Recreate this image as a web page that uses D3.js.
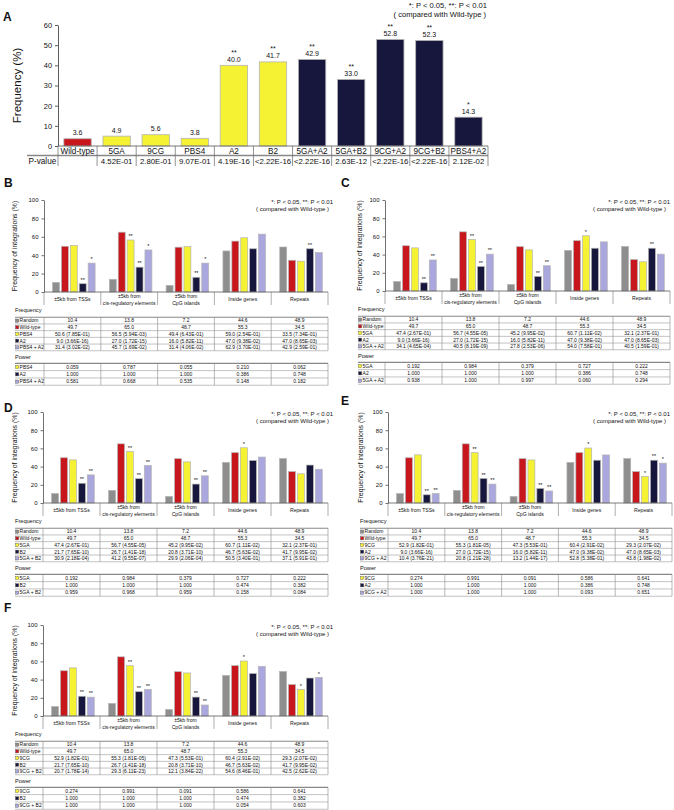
<!DOCTYPE html>
<html><head><meta charset="utf-8">
<script src="https://cdn.jsdelivr.net/npm/d3@7"></script>
<style>
body{margin:0;background:#fff}
svg text{font-family:"Liberation Sans",Arial,sans-serif;fill:#111}
</style>
</head><body>
<script>
// ---------------- DATA ----------------
// Panel A
const aMutants   = ["Wild-type","5GA","9CG","PBS4","A2","B2","5GA+A2","5GA+B2","9CG+A2","9CG+B2","PBS4+A2"];
const aFrequency = [3.6, 4.9, 5.6, 3.8, 40.0, 41.7, 42.9, 33.0, 52.8, 52.3, 14.3];
const aPvalue    = ["", "4.52E-01","2.80E-01","9.07E-01","4.19E-16","<2.22E-16","<2.22E-16","2.63E-12","<2.22E-16","<2.22E-16","2.12E-02"];
const aKind      = ["wild","single","single","single","single","single","double","double","double","double","double"];
const aTicks     = [0,10,20,30,40,50,60];

// Panels B-F
const regionLabels = [["±5kb from TSSs"],["±5kb from","cis-regulatory elements"],["±5kb from","CpG islands"],["Inside genes"],["Repeats"]];
const regionTicks  = [0,20,40,60,80,100];

const randomFreq = [10.4, 13.8, 7.2, 44.6, 48.9];
const wildFreq   = [49.7, 65.0, 48.7, 55.3, 34.5];

const pbs4Freq  = [50.6, 56.5, 49.4, 59.0, 33.5];
const pbs4P     = ["7.85E-01","5.94E-03","6.43E-01","2.54E-01","7.34E-01"];
const pbs4Power = [0.059, 0.787, 0.055, 0.210, 0.062];

const ga5Freq  = [47.4, 56.7, 45.2, 60.7, 32.1];
const ga5P     = ["2.67E-01","4.55E-05","9.95E-02","1.11E-02","2.37E-01"];
const ga5Power = [0.192, 0.984, 0.379, 0.727, 0.222];

const cg9Freq  = [52.9, 55.3, 47.3, 60.4, 29.3];
const cg9P     = ["1.82E-01","1.81E-05","5.53E-01","2.91E-02","2.07E-02"];
const cg9Power = [0.274, 0.991, 0.091, 0.586, 0.641];

const a2Freq  = [9.0, 27.0, 16.0, 47.0, 47.0];
const a2P     = ["3.66E-16","1.72E-15","5.82E-11","9.38E-02","8.65E-03"];
const a2Power = [1.000, 1.000, 1.000, 0.386, 0.748];

const b2Freq  = [21.7, 26.7, 20.8, 46.7, 41.7];
const b2P     = ["7.65E-10","1.41E-18","3.71E-10","5.63E-02","9.95E-02"];
const b2Power = [1.000, 1.000, 1.000, 0.474, 0.382];

const pbs4A2Freq  = [31.4, 45.7, 31.4, 62.9, 42.9];
const pbs4A2P     = ["3.02E-02","1.69E-02","4.06E-02","3.70E-01","2.59E-01"];
const pbs4A2Power = [0.581, 0.668, 0.535, 0.148, 0.182];

const ga5A2Freq  = [34.1, 40.5, 27.8, 54.0, 40.5];
const ga5A2P     = ["4.65E-04","8.19E-09","2.53E-06","7.58E-01","1.59E-01"];
const ga5A2Power = [0.938, 1.000, 0.997, 0.060, 0.294];

const ga5B2Freq  = [30.9, 41.2, 29.9, 50.5, 37.1];
const ga5B2P     = ["2.18E-04","9.55E-07","2.06E-04","3.40E-01","5.91E-01"];
const ga5B2Power = [0.959, 0.968, 0.959, 0.158, 0.084];

const cg9A2Freq  = [10.4, 20.8, 13.2, 52.8, 43.8];
const cg9A2P     = ["3.76E-21","1.21E-28","1.44E-17","5.38E-01","1.98E-02"];
const cg9A2Power = [1.000, 1.000, 1.000, 0.093, 0.651];

const cg9B2Freq  = [20.7, 29.3, 12.1, 54.6, 42.5];
const cg9B2P     = ["1.78E-14","6.11E-23","3.84E-22","8.46E-01","2.62E-02"];
const cg9B2Power = [1.000, 1.000, 1.000, 0.054, 0.603];

// ---------------- STYLE ----------------
const COL = {random:"#8e8e8e", wild:"#c8161d", single:"#f4f232", single2:"#17173d", double:"#17173d", combo:"#a9a7dd"};
const OUT = "#b4b4b4";
const FONT = '"Liberation Sans",Arial,sans-serif';

function stars(p){
  if(!p) return "";
  const v = p.startsWith("<") ? 0 : +p;
  return v < 0.01 ? "**" : v < 0.05 ? "*" : "";
}

const svg = d3.select("body").append("svg").attr("width",674).attr("height",810);

// ---------------- PANEL A ----------------
(function(){
  const g = svg.append("g");
  const left = 58, right = 488, base = 146, top = 25;
  const x = d3.scaleBand().domain(aMutants).range([left,right]).paddingInner(0.3).paddingOuter(0.15);
  const y = d3.scaleLinear().domain([0,60]).range([base,top]);

  g.append("text").attr("x",3).attr("y",21).attr("font-size",12).attr("font-weight","bold").text("A");

  g.append("text").attr("x",487).attr("y",8).attr("text-anchor","end").attr("font-size",7.6).text("*: P < 0.05, **: P < 0.01");
  g.append("text").attr("x",486).attr("y",17).attr("text-anchor","end").attr("font-size",7.6).text("( compared with Wild-type )");

  const ax = g.append("g").attr("transform",`translate(${left},0)`)
    .call(d3.axisLeft(y).tickValues(aTicks).tickSize(3).tickSizeOuter(0).tickPadding(3));
  ax.attr("font-family",FONT).attr("font-size",7.4);
  ax.selectAll("line,path").attr("stroke","#333").attr("stroke-width",0.8);
  ax.selectAll("text").attr("fill","#111");

  g.append("text").attr("transform",`translate(21,${(base+top)/2}) rotate(-90)`)
    .attr("text-anchor","middle").attr("font-size",11.5).text("Frequency (%)");

  g.selectAll("rect.bar").data(aMutants).join("rect").attr("class","bar")
    .attr("x",d=>x(d)).attr("width",x.bandwidth())
    .attr("y",(d,i)=>y(aFrequency[i])).attr("height",(d,i)=>base-y(aFrequency[i]))
    .attr("fill",(d,i)=>COL[aKind[i]]).attr("stroke",OUT).attr("stroke-width",0.8);

  g.selectAll("text.val").data(aMutants).join("text").attr("class","val")
    .attr("x",d=>x(d)+x.bandwidth()/2).attr("y",(d,i)=>y(aFrequency[i])-3.5)
    .attr("text-anchor","middle").attr("font-size",7).text((d,i)=>aFrequency[i].toFixed(1));
  g.selectAll("text.star").data(aMutants).join("text").attr("class","star")
    .attr("x",d=>x(d)+x.bandwidth()/2).attr("y",(d,i)=>y(aFrequency[i])-10.5)
    .attr("text-anchor","middle").attr("font-size",7).text((d,i)=>stars(aPvalue[i]));

  // table under bars
  const step = x.step();
  g.append("line").attr("x1",left).attr("x2",right).attr("y1",base).attr("y2",base).attr("stroke","#555").attr("stroke-width",0.8);
  g.append("line").attr("x1",27).attr("x2",right).attr("y1",155.5).attr("y2",155.5).attr("stroke","#888").attr("stroke-width",1.4);
  d3.range(aMutants.length+1).forEach(k=>{
    g.append("line").attr("x1",left+k*step).attr("x2",left+k*step).attr("y1",base).attr("y2",166)
      .attr("stroke","#666").attr("stroke-width",0.7);
  });
  g.selectAll("text.cat").data(aMutants).join("text").attr("class","cat")
    .attr("x",(d,i)=>left+(i+0.5)*step).attr("y",153.5).attr("text-anchor","middle")
    .attr("font-size",8.2).text(d=>d);
  g.append("text").attr("x",28.5).attr("y",164).attr("font-size",8.2).text("P-value");
  g.selectAll("text.pv").data(aPvalue).join("text").attr("class","pv")
    .attr("x",(d,i)=>left+(i+0.5)*step).attr("y",164).attr("text-anchor","middle")
    .attr("font-size",7.8).text(d=>d);
})();

// ---------------- PANELS B-F ----------------
function drawRegionPanel(cfg){
  const g = svg.append("g");
  const y = d3.scaleLinear().domain([0,100]).range([cfg.base,cfg.top]);
  const x0 = d3.scaleBand().domain(d3.range(regionLabels.length)).range([cfg.axisX,cfg.right]).padding(0);
  const keys = cfg.series.map(s=>s.name);
  const x1 = d3.scaleBand().domain(keys).range([0,x0.bandwidth()]).paddingInner(0.22).paddingOuter(0.8).align(0.6);

  g.append("text").attr("x",cfg.lx).attr("y",cfg.ly).attr("font-size",12).attr("font-weight","bold").text(cfg.label);

  g.append("text").attr("x",cfg.noteX).attr("y",cfg.top+3.5).attr("text-anchor","end").attr("font-size",6).text("*: P < 0.05, **: P < 0.01");
  g.append("text").attr("x",cfg.noteX-4).attr("y",cfg.top+11).attr("text-anchor","end").attr("font-size",6).text("( compared with Wild-type )");

  const ax = g.append("g").attr("transform",`translate(${cfg.axisX},0)`)
    .call(d3.axisLeft(y).tickValues(regionTicks).tickSize(2.5).tickSizeOuter(0).tickPadding(3));
  ax.attr("font-family",FONT).attr("font-size",6);
  ax.selectAll("line,path").attr("stroke","#333").attr("stroke-width",0.7);
  ax.selectAll("text").attr("fill","#111");

  g.append("text").attr("transform",`translate(${cfg.titleX},${(cfg.base+cfg.top)/2}) rotate(-90)`)
    .attr("text-anchor","middle").attr("font-size",6.9).text("Frequency of integrations (%)");

  // bars
  cfg.series.forEach(s=>{
    g.selectAll(null).data(s.freq).join("rect")
      .attr("x",(d,i)=>x0(i)+x1(s.name)).attr("width",x1.bandwidth())
      .attr("y",d=>y(d)).attr("height",d=>cfg.base-y(d))
      .attr("fill",COL[s.kind]).attr("stroke",OUT).attr("stroke-width",0.7);
    if(s.p){
      g.selectAll(null).data(s.freq).join("text")
        .attr("x",(d,i)=>x0(i)+x1(s.name)+x1.bandwidth()/2).attr("y",d=>y(d)-1.8)
        .attr("text-anchor","middle").attr("font-size",5.5).text((d,i)=>stars(s.p[i]));
    }
  });

  // baseline + category cells
  g.append("line").attr("x1",cfg.axisX).attr("x2",cfg.right).attr("y1",cfg.base).attr("y2",cfg.base).attr("stroke","#444").attr("stroke-width",0.7);
  d3.range(regionLabels.length+1).forEach(k=>{
    const xx = cfg.axisX + k*x0.step();
    g.append("line").attr("x1",xx).attr("x2",xx).attr("y1",cfg.base).attr("y2",cfg.base+13).attr("stroke","#777").attr("stroke-width",0.6);
  });
  regionLabels.forEach((lines,i)=>{
    const cx = x0(i)+x0.bandwidth()/2;
    lines.forEach((t,j)=>{
      const yy = lines.length===1 ? cfg.base+9 : cfg.base+6.3+j*6.2;
      g.append("text").attr("x",cx).attr("y",yy).attr("text-anchor","middle").attr("font-size",5.1).text(t);
    });
  });

  // tables
  function table(title, titleY, rows, firstRowY, rowH){
    g.append("text").attr("x",cfg.tableLeft).attr("y",titleY).attr("font-size",5.6).text(title);
    const topY = firstRowY - rowH/2, botY = firstRowY + rowH*(rows.length-0.5);
    g.append("line").attr("x1",cfg.tableLeft).attr("x2",cfg.right).attr("y1",topY).attr("y2",topY).attr("stroke","#888").attr("stroke-width",1.2);
    rows.forEach((r,ri)=>{
      const cy = firstRowY + ri*rowH;
      const ly = cy + rowH/2;
      g.append("line").attr("x1",cfg.tableLeft).attr("x2",cfg.right).attr("y1",ly).attr("y2",ly).attr("stroke","#999").attr("stroke-width",0.6);
      g.append("rect").attr("x",cfg.tableLeft+0.5).attr("y",cy-1.6).attr("width",3.2).attr("height",3.2)
        .attr("fill",COL[r.kind]).attr("stroke","#555").attr("stroke-width",0.4);
      g.append("text").attr("x",cfg.tableLeft+4.6).attr("y",cy+1.8).attr("font-size",5).text(r.label);
      r.cells.forEach((c,i)=>{
        g.append("text").attr("x",x0(i)+x0.bandwidth()/2).attr("y",cy+1.8).attr("text-anchor","middle").attr("font-size",5).text(c);
      });
    });
    d3.range(regionLabels.length+1).forEach(k=>{
      const xx = cfg.axisX + k*x0.step();
      g.append("line").attr("x1",xx).attr("x2",xx).attr("y1",topY).attr("y2",botY).attr("stroke","#888").attr("stroke-width",0.6);
    });
  }
  const freqRows = cfg.series.map(s=>({label:s.name, kind:s.kind,
    cells:s.freq.map((v,i)=> s.p ? `${v.toFixed(1)} (${s.p[i]})` : v.toFixed(1))}));
  table("Frequency", cfg.base+20, freqRows, cfg.base+28.6, 6.7);
  const powRows = cfg.series.filter(s=>s.power).map(s=>({label:s.name, kind:s.kind,
    cells:s.power.map(v=>v.toFixed(3))}));
  table("Power", cfg.base+67, powRows, cfg.base+75, 7.3);
}

const baseSeries = [
  {name:"Random", kind:"random", freq:randomFreq},
  {name:"Wild-type", kind:"wild", freq:wildFreq}
];

drawRegionPanel({label:"B", lx:4, ly:187, axisX:44, right:328, base:292, top:200, titleX:17, tableLeft:15, noteX:333,
  series: baseSeries.concat([
    {name:"PBS4", kind:"single", freq:pbs4Freq, p:pbs4P, power:pbs4Power},
    {name:"A2", kind:"single2", freq:a2Freq, p:a2P, power:a2Power},
    {name:"PBS4 + A2", kind:"combo", freq:pbs4A2Freq, p:pbs4A2P, power:pbs4A2Power}])});

drawRegionPanel({label:"C", lx:341, ly:187, axisX:385, right:670, base:291, top:200, titleX:362, tableLeft:358, noteX:670,
  series: baseSeries.concat([
    {name:"5GA", kind:"single", freq:ga5Freq, p:ga5P, power:ga5Power},
    {name:"A2", kind:"single2", freq:a2Freq, p:a2P, power:a2Power},
    {name:"5GA + A2", kind:"combo", freq:ga5A2Freq, p:ga5A2P, power:ga5A2Power}])});

drawRegionPanel({label:"D", lx:4, ly:412, axisX:43, right:328, base:503, top:412, titleX:17, tableLeft:15, noteX:333,
  series: baseSeries.concat([
    {name:"5GA", kind:"single", freq:ga5Freq, p:ga5P, power:ga5Power},
    {name:"B2", kind:"single2", freq:b2Freq, p:b2P, power:b2Power},
    {name:"5GA + B2", kind:"combo", freq:ga5B2Freq, p:ga5B2P, power:ga5B2Power}])});

drawRegionPanel({label:"E", lx:341, ly:405, axisX:388, right:672, base:503, top:412, titleX:363, tableLeft:360, noteX:670,
  series: baseSeries.concat([
    {name:"9CG", kind:"single", freq:cg9Freq, p:cg9P, power:cg9Power},
    {name:"A2", kind:"single2", freq:a2Freq, p:a2P, power:a2Power},
    {name:"9CG + A2", kind:"combo", freq:cg9A2Freq, p:cg9A2P, power:cg9A2Power}])});

drawRegionPanel({label:"F", lx:4, ly:612, axisX:43, right:328, base:716, top:625, titleX:17, tableLeft:15, noteX:333,
  series: baseSeries.concat([
    {name:"9CG", kind:"single", freq:cg9Freq, p:cg9P, power:cg9Power},
    {name:"B2", kind:"single2", freq:b2Freq, p:b2P, power:b2Power},
    {name:"9CG + B2", kind:"combo", freq:cg9B2Freq, p:cg9B2P, power:cg9B2Power}])});
</script>
</body></html>
